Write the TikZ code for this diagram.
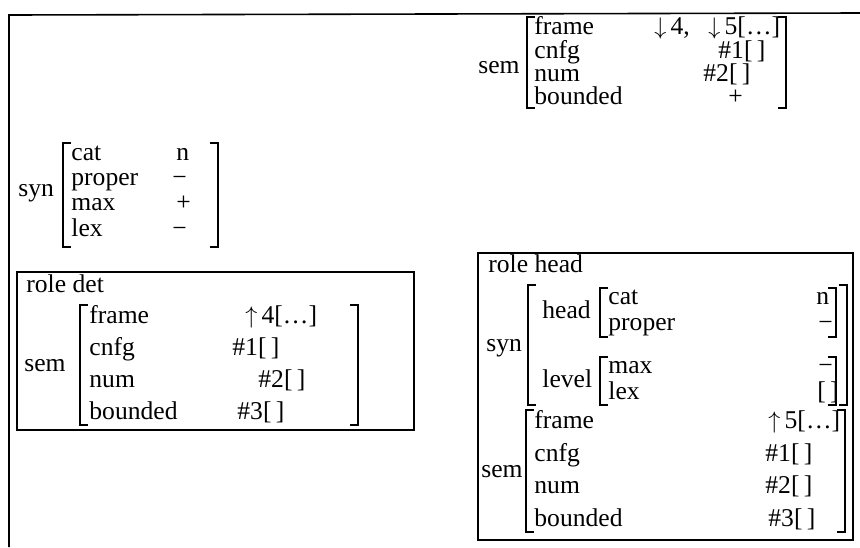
\documentclass[tikz,border=0pt]{standalone}
\usepackage{fontspec}
\setmainfont{Liberation Serif}
\usepackage{tikz}

\begin{document}
\begin{tikzpicture}[x=0.5pt, y=-0.5pt,
    feat/.style={anchor=base west, inner sep=0pt, font=\fontsize{12.8}{15}\selectfont},
    brk/.style={line width=0.75pt},
    rolebox/.style={line width=0.8pt}]
\useasboundingbox (0,0) rectangle (860,547);

% outer frame, open to the right and below
\draw[rolebox] (9,547) -- (9,15) -- (860,13);

% role boxes
\draw[rolebox] (17,272) rectangle (414,430);
\draw[rolebox] (478,253) rectangle (853,540);

% brackets
\foreach \x/\t/\b in {527/17/108, 63/143/247, 80/305/425, 528/285/405,
                      600/288/337, 600/357/405, 526/410/532}
    \draw[brk] (\x+8,\t) -| (\x,\b) -- ++(8,0);
\foreach \x/\t/\b in {786/17/108, 218/143/247, 358/305/425, 847/285/405,
                      836/288/337, 836/357/405, 845/410/532}
    \draw[brk] (\x-8,\t) -| (\x,\b) -- ++(-8,0);

% top: sem
\node[feat] (tsem) at (478,73) {sem};
\node[feat] (tframe) at (534,34) {frame};
\node[feat] (tcnfg) at (534,58) {cnfg};
\node[feat] (tnum) at (534,81) {num};
\node[feat] (tbnd) at (534,104) {bounded};
\node[feat] (tframea) at (654,34) {$\downarrow$\,4,};
\node[feat] (tframeb) at (708,34) {$\downarrow$\,5[…]};
\node[feat] (tcnfgv) at (718,58) {\#1[\,]};
\node[feat] (tnumv) at (703,81) {\#2[\,]};
\node[feat] (tbndv) at (728,104) {+};

% left: syn
\node[feat] (ssyn) at (18,196) {syn};
\node[feat] (scat) at (71,160) {cat};
\node[feat] (sproper) at (71,185) {proper};
\node[feat] (smax) at (71,210) {max};
\node[feat] (slex) at (71,236) {lex};
\node[feat] (scatv) at (176,160) {n};
\node[feat] (sproperv) at (172,185) {−};
\node[feat] (smaxv) at (176,210) {+};
\node[feat] (slexv) at (172,236) {−};

% role det
\node[feat] (dtitle) at (26,292) {role det};
\node[feat] (dsem) at (24,371) {sem};
\node[feat] (dframe) at (89,323) {frame};
\node[feat] (dcnfg) at (89,355) {cnfg};
\node[feat] (dnum) at (89,387) {num};
\node[feat] (dbnd) at (89,419) {bounded};
\node[feat] (dframev) at (245,323) {$\uparrow$\,4[…]};
\node[feat] (dcnfgv) at (232,355) {\#1[\,]};
\node[feat] (dnumv) at (258,387) {\#2[\,]};
\node[feat] (dbndv) at (237,419) {\#3[\,]};

% role head
\node[feat] (htitle) at (488,272) {role head};
\node[feat] (hsyn) at (486,351) {syn};
\node[feat] (hhead) at (542,318) {head};
\node[feat] (hlevel) at (542,387) {level};
\node[feat] (hcat) at (608,304) {cat};
\node[feat] (hproper) at (608,330) {proper};
\node[feat] (hmax) at (608,373) {max};
\node[feat] (hlex) at (608,399) {lex};
\node[feat] (hcatv) at (816,304) {n};
\node[feat] (hproperv) at (818,330) {−};
\node[feat] (hmaxv) at (818,373) {−};
\node[feat] (hlexv) at (817,399) {[\,]};
\node[feat] (hsem) at (481,477) {sem};
\node[feat] (hframe) at (534,428) {frame};
\node[feat] (hcnfg) at (534,461) {cnfg};
\node[feat] (hnum) at (534,493) {num};
\node[feat] (hbnd) at (534,526) {bounded};
\node[feat] (hframev) at (768,428) {$\uparrow$\,5[…]};
\node[feat] (hcnfgv) at (765,461) {\#1[\,]};
\node[feat] (hnumv) at (765,493) {\#2[\,]};
\node[feat] (hbndv) at (768,526) {\#3[\,]};
\end{tikzpicture}
\end{document}
